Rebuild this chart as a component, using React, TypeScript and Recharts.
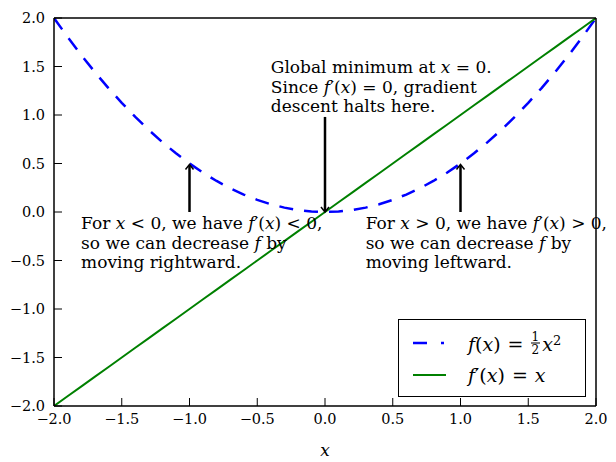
import React from 'react';
import { LineChart, Line, XAxis, YAxis, ReferenceDot, ReferenceLine, Legend } from 'recharts';

const xValues = [
  -2.0, -1.9, -1.8, -1.7, -1.6, -1.5, -1.4, -1.3, -1.2, -1.1, -1.0,
  -0.9, -0.8, -0.7, -0.6, -0.5, -0.4, -0.3, -0.2, -0.1, 0.0,
  0.1, 0.2, 0.3, 0.4, 0.5, 0.6, 0.7, 0.8, 0.9, 1.0,
  1.1, 1.2, 1.3, 1.4, 1.5, 1.6, 1.7, 1.8, 1.9, 2.0,
];
const fValues = [
  2.0, 1.805, 1.62, 1.445, 1.28, 1.125, 0.98, 0.845, 0.72, 0.605, 0.5,
  0.405, 0.32, 0.245, 0.18, 0.125, 0.08, 0.045, 0.02, 0.005, 0.0,
  0.005, 0.02, 0.045, 0.08, 0.125, 0.18, 0.245, 0.32, 0.405, 0.5,
  0.605, 0.72, 0.845, 0.98, 1.125, 1.28, 1.445, 1.62, 1.805, 2.0,
];
const dfValues = [
  -2.0, -1.9, -1.8, -1.7, -1.6, -1.5, -1.4, -1.3, -1.2, -1.1, -1.0,
  -0.9, -0.8, -0.7, -0.6, -0.5, -0.4, -0.3, -0.2, -0.1, 0.0,
  0.1, 0.2, 0.3, 0.4, 0.5, 0.6, 0.7, 0.8, 0.9, 1.0,
  1.1, 1.2, 1.3, 1.4, 1.5, 1.6, 1.7, 1.8, 1.9, 2.0,
];
const tickValues = [-2.0, -1.5, -1.0, -0.5, 0.0, 0.5, 1.0, 1.5, 2.0];
const tickLabels = ['\u22122.0', '\u22121.5', '\u22121.0', '\u22120.5', '0.0', '0.5', '1.0', '1.5', '2.0'];

const data = xValues.map((x, i) => ({ x, f: fValues[i], df: dfValues[i] }));

const SERIF = '"DejaVu Serif", "Liberation Serif", serif';
const fmt = (v: number) => {
  const i = tickValues.findIndex((t) => Math.abs(t - v) < 1e-9);
  return i >= 0 ? tickLabels[i] : String(v);
};

const I = ({ children }: { children: React.ReactNode }) => (
  <tspan fontStyle="italic">{children}</tspan>
);

const Annot = ({ cx, cy, lines }: { cx: number; cy: number; lines: React.ReactNode[] }) => (
  <text x={cx} y={cy} fontFamily={SERIF} fontSize={17} fill="#000">
    {lines.map((ln, i) => (
      <tspan key={i} x={cx} dy={i === 0 ? 0 : 19.5}>
        {ln}
      </tspan>
    ))}
  </text>
);

const Arrow = (p: any) => {
  const { x1, y1, x2, y2 } = p;
  const dx = x2 - x1;
  const dy = y2 - y1;
  const len = Math.sqrt(dx * dx + dy * dy) || 1;
  const ux = dx / len;
  const uy = dy / len;
  const hl = 5;
  const hw = 4;
  const bx = x2 - ux * hl;
  const by = y2 - uy * hl;
  return (
    <g>
      <line x1={x1} y1={y1} x2={x2 - ux * 1} y2={y2 - uy * 1} stroke="#000" strokeWidth={2.5} />
      <polyline
        points={`${bx - uy * hw},${by + ux * hw} ${x2},${y2} ${bx + uy * hw},${by - ux * hw}`}
        fill="none"
        stroke="#000"
        strokeWidth={1.5}
      />
    </g>
  );
};

const leftLines = [
  <>For <I>x</I> &lt; 0, we have <I>f</I>′(<I>x</I>) &lt; 0,</>,
  <>so we can decrease <I>f</I> by</>,
  <>moving rightward.</>,
];
const rightLines = [
  <>For <I>x</I> &gt; 0, we have <I>f</I>′(<I>x</I>) &gt; 0,</>,
  <>so we can decrease <I>f</I> by</>,
  <>moving leftward.</>,
];
const midLines = [
  <>Global minimum at <I>x</I> = 0.</>,
  <>Since <I>f</I>′(<I>x</I>) = 0, gradient</>,
  <>descent halts here.</>,
];

const Frac = () => (
  <span style={{ display: 'inline-flex', flexDirection: 'column', alignItems: 'center', fontSize: 12, lineHeight: '12px', margin: '0 2px 0 0', verticalAlign: 'middle' }}>
    <span>1</span>
    <span style={{ borderTop: '1px solid #000', padding: '0 1px' }}>2</span>
  </span>
);

const Eq = () => <span style={{ padding: '0 7px' }}>=</span>;

const LegendBox = () => (
  <div
    style={{
      width: 188,
      height: 78,
      border: '1.3px solid #000',
      boxSizing: 'border-box',
      background: '#fff',
      fontFamily: SERIF,
      fontSize: 19,
      position: 'relative',
      color: '#000',
    }}
  >
    <svg width={32} height={6} style={{ position: 'absolute', left: 14, top: 20 }}>
      <line x1={0} y1={3} x2={31} y2={3} stroke="#0000ff" strokeWidth={2.5} strokeDasharray="14 14" />
    </svg>
    <div style={{ position: 'absolute', left: 69, top: 23, transform: 'translateY(-50%)', whiteSpace: 'nowrap', display: 'flex', alignItems: 'center' }}>
      <i>f</i>(<i>x</i>)<Eq /><Frac /><i>x</i>
      <sup style={{ fontSize: 13, position: 'relative', top: -3 }}>2</sup>
    </div>
    <svg width={34} height={6} style={{ position: 'absolute', left: 14, top: 52 }}>
      <line x1={0} y1={3} x2={33} y2={3} stroke="#008000" strokeWidth={2} />
    </svg>
    <div style={{ position: 'absolute', left: 69, top: 55, transform: 'translateY(-50%)', whiteSpace: 'nowrap', display: 'flex', alignItems: 'center' }}>
      <i>f</i>′(<i>x</i>)<Eq /><i>x</i>
    </div>
  </div>
);

const tickStyle = { fontFamily: SERIF, fontSize: 14.5, fill: '#000' };

export default function App() {
  return (
    <div style={{ position: 'absolute', left: 0, top: 0, width: 616, height: 462, background: '#fff' }}>
      <LineChart width={616} height={462} data={data} margin={{ top: 17, right: 19, bottom: 0, left: 0 }}>
        <XAxis
          dataKey="x"
          type="number"
          domain={[-2, 2]}
          ticks={tickValues}
          tickFormatter={fmt}
          allowDataOverflow
          height={56}
          tickSize={-8}
          tickMargin={16}
          tick={tickStyle}
          axisLine={{ stroke: '#000', strokeWidth: 1.5 }}
          tickLine={{ stroke: '#000', strokeWidth: 1 }}
          label={{ value: 'x', position: 'insideBottom', offset: 6, style: { fontFamily: SERIF, fontStyle: 'italic', fontSize: 17, fill: '#000' } }}
        />
        <XAxis
          xAxisId="top"
          orientation="top"
          dataKey="x"
          type="number"
          domain={[-2, 2]}
          ticks={tickValues}
          allowDataOverflow
          height={1}
          tickSize={-8}
          tick={false}
          axisLine={{ stroke: '#000', strokeWidth: 1.5 }}
          tickLine={{ stroke: '#000', strokeWidth: 1 }}
        />
        <YAxis
          type="number"
          domain={[-2, 2]}
          ticks={tickValues}
          tickFormatter={fmt}
          allowDataOverflow
          width={54}
          tickSize={-8}
          tickMargin={17}
          tick={tickStyle}
          axisLine={{ stroke: '#000', strokeWidth: 1.5 }}
          tickLine={{ stroke: '#000', strokeWidth: 1 }}
        />
        <YAxis
          yAxisId="right"
          orientation="right"
          type="number"
          domain={[-2, 2]}
          ticks={tickValues}
          allowDataOverflow
          width={1}
          tickSize={-8}
          tick={false}
          axisLine={{ stroke: '#000', strokeWidth: 1.5 }}
          tickLine={{ stroke: '#000', strokeWidth: 1 }}
        />
        <Line
          dataKey="f"
          type="linear"
          stroke="#0000ff"
          strokeWidth={2.5}
          strokeDasharray="14 11"
          dot={false}
          isAnimationActive={false}
        />
        <Line dataKey="df" type="linear" stroke="#008000" strokeWidth={2} dot={false} isAnimationActive={false} />
        <ReferenceDot x={-1.8} y={-0.18} r={0} shape={(p: any) => <Annot cx={p.cx} cy={p.cy} lines={leftLines} />} />
        <ReferenceDot x={0.3} y={-0.18} r={0} shape={(p: any) => <Annot cx={p.cx} cy={p.cy} lines={rightLines} />} />
        <ReferenceDot x={-0.4} y={1.43} r={0} shape={(p: any) => <Annot cx={p.cx} cy={p.cy} lines={midLines} />} />
        <ReferenceLine segment={[{ x: -1, y: 0 }, { x: -1, y: 0.49 }]} shape={(p: any) => <Arrow {...p} />} />
        <ReferenceLine segment={[{ x: 0, y: 0.98 }, { x: 0, y: 0 }]} shape={(p: any) => <Arrow {...p} />} />
        <ReferenceLine segment={[{ x: 1, y: 0 }, { x: 1, y: 0.49 }]} shape={(p: any) => <Arrow {...p} />} />
        <Legend
          layout="horizontal"
          verticalAlign="middle"
          align="center"
          content={() => <LegendBox />}
          wrapperStyle={{ position: 'absolute', left: 398, top: 319, width: 188, height: 78, right: 'auto', bottom: 'auto' }}
        />
      </LineChart>
    </div>
  );
}
